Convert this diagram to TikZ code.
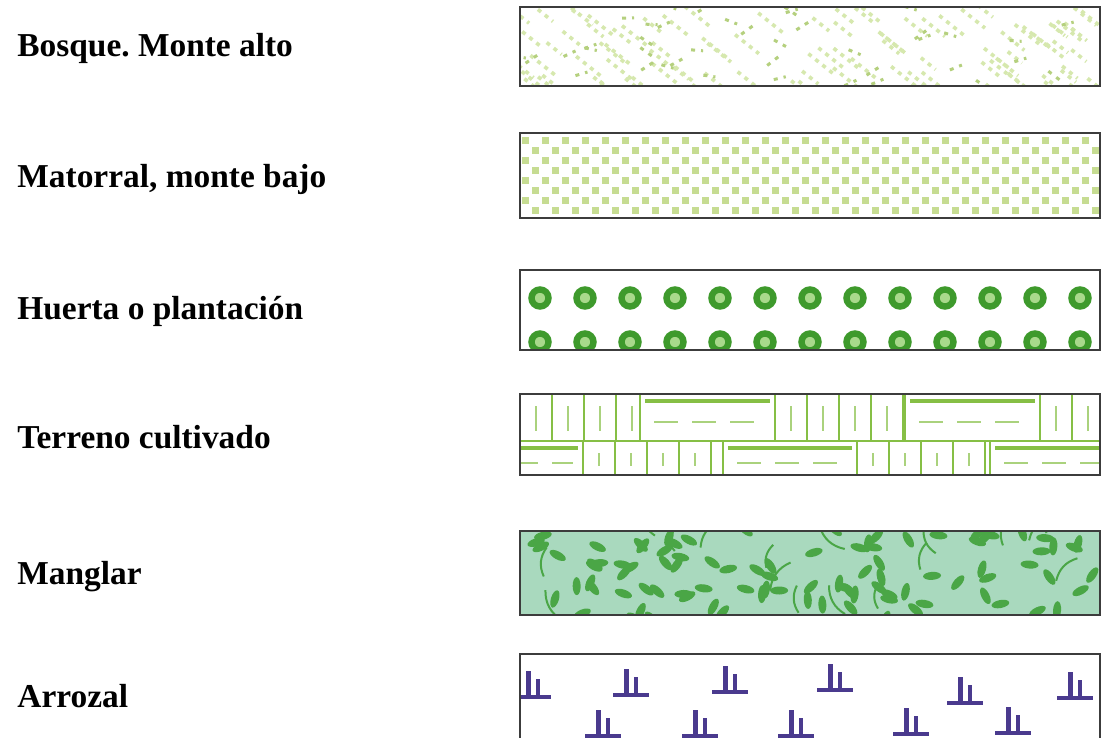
\documentclass[tikz,border=0pt]{standalone}
\usepackage{fontspec}
\setmainfont{Liberation Serif}
\usetikzlibrary{calc}
\usepackage{xcolor}

\definecolor{boxgray}{HTML}{3C3C3C}
\definecolor{bosquegreen}{HTML}{D6E8AE}
\definecolor{bosquedark}{HTML}{B5D07E}
\definecolor{matogreen}{HTML}{C6DC92}
\definecolor{huertagreen}{HTML}{3E9A2C}
\definecolor{huertalight}{HTML}{A9D98C}
\definecolor{campogreen}{HTML}{86BF45}
\definecolor{mangfill}{HTML}{A9D9BE}
\definecolor{mangleaf}{HTML}{4AA646}
\definecolor{ricepurple}{HTML}{4A3A8E}

\tikzset{
  legtext/.style={anchor=base west, inner sep=0pt, font=\frenchspacing\bfseries\fontsize{16.7}{20}\selectfont},
  framebox/.style={draw=boxgray, line width=1.1pt},
  campoline/.style={draw=campogreen, line width=1.2pt},
  campodash/.style={draw=campogreen!70, line width=1pt},
  huertaring/.style={draw=huertagreen, fill=huertalight, line width=3.2pt},
}

% block of upright cells (x1, x2, top, bottom)
\newcommand{\vcells}[4]{%
  \pgfmathtruncatemacro{\nc}{(#2-#1)/32}
  \foreach \k in {1,...,\nc}{
    \draw[campoline] ({#1+32*\k},#3) -- ({#1+32*\k},#4);
  }
  \foreach \k in {0,...,\nc}{
    \draw[campodash] ({#1+32*\k+16},{#3+12}) -- ({#1+32*\k+16},{#4-10});
  }
}
% block of lying strips (x1, x2, top, bottom)
\newcommand{\hstrip}[4]{%
  \fill[white] (#1,#3) rectangle (#2,#4);
  \draw[campoline] (#1,#3) rectangle (#2,#4);
  \draw[campoline, line width=2pt] ({#1+5},{#3+7}) -- ({#2-5},{#3+7});
  \draw[campodash, dash pattern=on 12pt off 7pt] ({#1+14},{(#3+#4)/2+4}) -- ({#2-10},{(#3+#4)/2+4});
}
% rice plant (left of base, base)
\newcommand{\ricemark}[2]{%
  \fill[ricepurple] (#1,{#2-2}) rectangle ({#1+36},{#2+2});
  \fill[ricepurple] ({#1+11},#2) rectangle ({#1+16},{#2-26});
  \fill[ricepurple] ({#1+21},#2) rectangle ({#1+25},{#2-18});
}

\begin{document}
\begin{tikzpicture}[x=0.5pt,y=-0.5pt]
\useasboundingbox (0,0) rectangle (1105,738);
\fill[white] (0,0) rectangle (1105,738);

% legend texts
\node[legtext] (bosque) at (17,57) {Bosque. Monte alto};
\node[legtext] (matorral) at (17,188) {Matorral, monte bajo};
\node[legtext] (huerta) at (17,320) {Huerta o plantación};
\node[legtext] (terreno) at (17,448) {Terreno cultivado};
\node[legtext] (manglar) at (17,584) {Manglar};
\node[legtext] (arrozal) at (17,707) {Arrozal};

% Bosque
\begin{scope}
\clip (520,7) rectangle (1100,86);
\pgfmathsetseed{17}
\foreach \i in {1,...,100}{
  \pgfmathsetmacro{\px}{500+600*rnd}
  \pgfmathsetmacro{\py}{0+90*rnd}
  \pgfmathsetmacro{\dx}{14+14*rnd}
  \draw[bosquegreen, line width=1.8pt, dash pattern=on 2pt off 2.5pt] (\px,\py) -- ++(\dx,{0.8*\dx});
}
\foreach \i in {1,...,40}{
  \pgfmathsetmacro{\px}{500+600*rnd}
  \pgfmathsetmacro{\py}{0+90*rnd}
  \draw[bosquedark, line width=1.5pt, dash pattern=on 2pt off 3pt] (\px,\py) -- ++(12,{10-20*rnd});
}
\end{scope}
\draw[framebox] (520,7) rectangle (1100,86);

% Matorral
\foreach \r in {0,...,7}{
  \foreach \c in {0,...,28}{
    \pgfmathsetmacro{\sx}{522+20*\c+10*mod(\r,2)}
    \fill[matogreen] (\sx,{137+10*\r}) rectangle ++(7,7);
  }
}
\draw[framebox] (520,133) rectangle (1100,218);

% Huerta
\begin{scope}
\clip (520,270) rectangle (1100,350);
\foreach \i in {0,...,12}{
  \draw[huertaring] ({540+45*\i},298) circle (8.5);
  \draw[huertaring] ({540+45*\i},342) circle (8.5);
}
\end{scope}
\draw[framebox] (520,270) rectangle (1100,350);

% Terreno cultivado
\begin{scope}
\clip (520,394) rectangle (1100,475);
\vcells{520}{640}{394}{441}
\hstrip{640}{775}{394}{441}
\vcells{775}{905}{394}{441}
\hstrip{905}{1040}{394}{441}
\vcells{1040}{1100}{394}{441}
\vcells{583}{723}{441}{476}
\vcells{857}{990}{441}{476}
\hstrip{500}{583}{441}{476}
\hstrip{723}{857}{441}{476}
\hstrip{990}{1110}{441}{476}
\draw[campoline] (520,441) -- (1100,441);
\end{scope}
\draw[framebox] (520,394) rectangle (1100,475);

% Manglar
\begin{scope}
\clip (520,531) rectangle (1100,615);
\fill[mangfill] (520,531) rectangle (1100,615);
\pgfmathsetseed{5}
\foreach \i in {1,...,18}{
  \pgfmathsetmacro{\px}{510+600*rnd}
  \pgfmathsetmacro{\py}{530+90*rnd}
  \draw[mangleaf, line width=1pt] (\px,\py) to[bend left=30] ++({30-60*rnd},{-20-10*rnd});
}
\foreach \i in {1,...,95}{
  \pgfmathsetmacro{\px}{515+590*rnd}
  \pgfmathsetmacro{\py}{528+92*rnd}
  \pgfmathsetmacro{\ang}{360*rnd}
  \fill[mangleaf, rotate around={\ang:(\px,\py)}] (\px,\py) ellipse (9 and 4);
}
\end{scope}
\draw[framebox] (520,531) rectangle (1100,615);

% Arrozal
\begin{scope}
\clip (520,654) rectangle (1100,738);
\foreach \rx/\ry in {515/697, 613/695, 712/692, 817/690, 947/703, 1057/698,
                     585/736, 682/736, 778/736, 893/734, 995/733}{
  \ricemark{\rx}{\ry}
}
\end{scope}
\draw[framebox] (520,740) -- (520,654) -- (1100,654) -- (1100,740);

\end{tikzpicture}
\end{document}
